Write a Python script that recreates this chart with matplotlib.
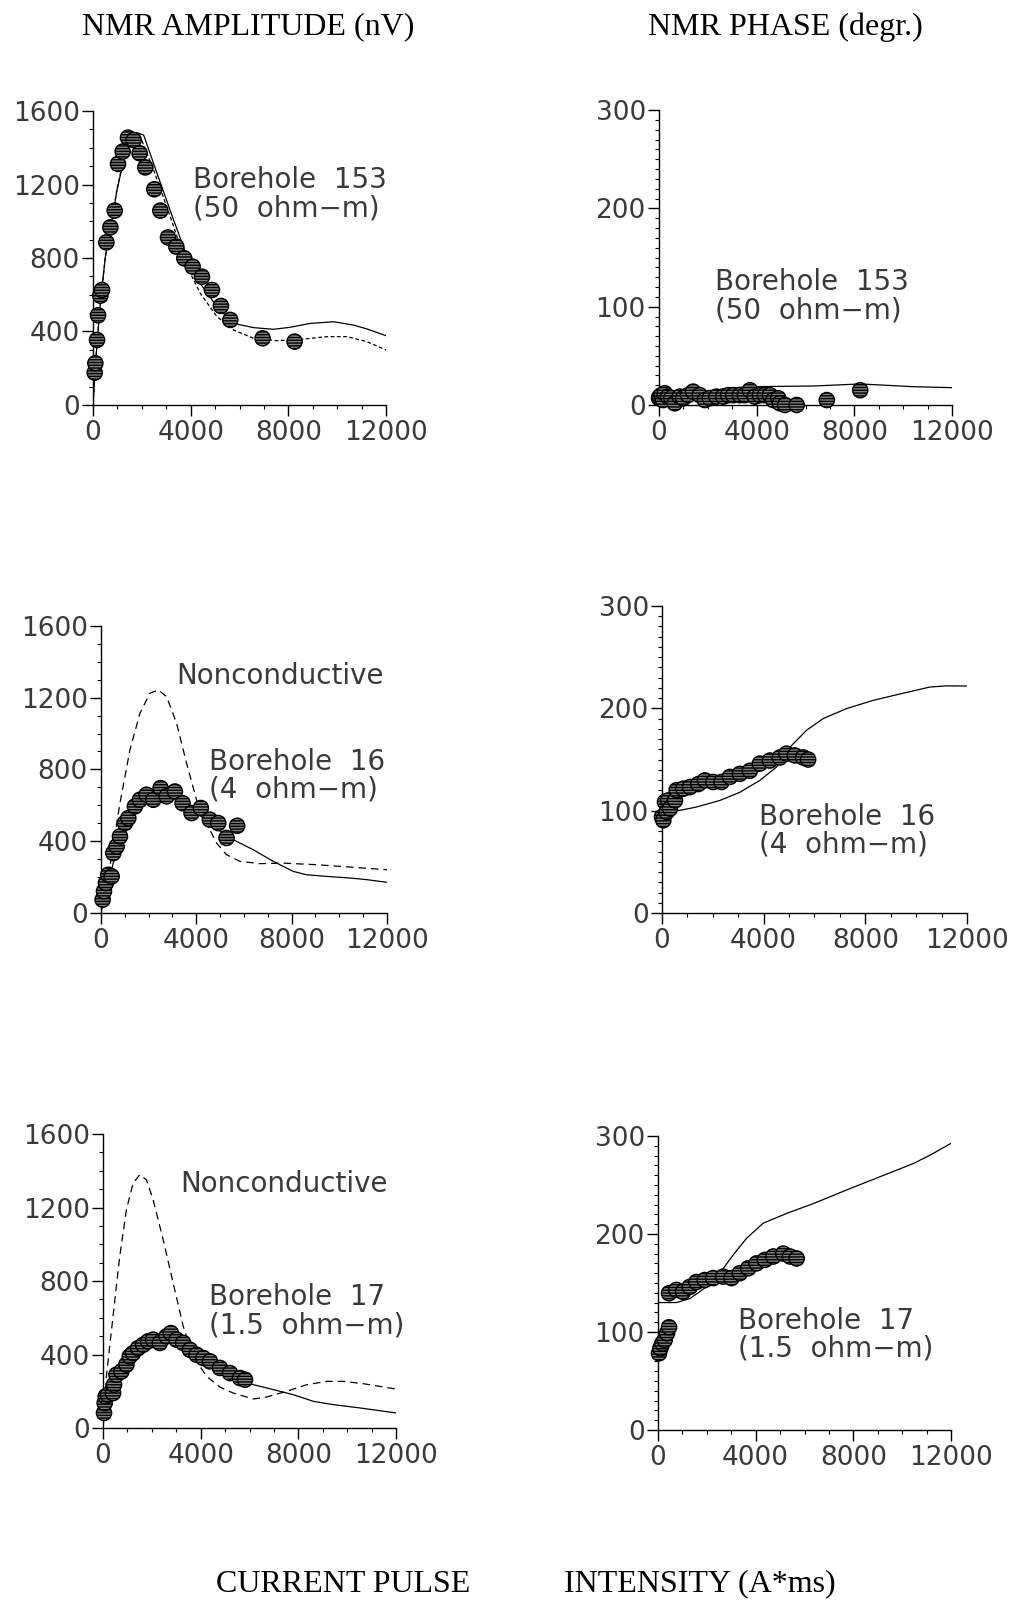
import matplotlib
matplotlib.use("Agg")
import matplotlib.pyplot as plt
from matplotlib.ticker import MultipleLocator

# ---- Borehole 153, amplitude (nV) ----
amp153_x = [68, 95, 164, 205, 300, 368, 546, 709, 887, 1023, 1214, 1432, 1664, 1910, 2142,
            2510, 2756, 3070, 3411, 3738, 4079, 4461, 4870, 5239, 5621, 6944, 8254]
amp153_y = [176, 227, 354, 488, 595, 626, 885, 967, 1058, 1312, 1379, 1455, 1442, 1370, 1293,
            1174, 1058, 912, 862, 798, 753, 698, 626, 539, 463, 363, 345]
amp153_fit_x = [0, 68, 164, 300, 505, 709, 982, 1255, 1528, 1800, 2074, 2620, 3300, 3850, 4390,
                5075, 5757, 6576, 7394, 8076, 8895, 9850, 10670, 11214, 12000]
amp153_fit_y = [0, 154, 336, 553, 807, 952, 1170, 1333, 1442, 1482, 1469, 1261, 1007, 807, 662,
                535, 444, 421, 412, 423, 444, 453, 435, 414, 377]
amp153_nc_x = [0, 68, 164, 300, 505, 709, 982, 1255, 1500, 1690, 1950, 2480, 3165, 3850, 4390,
               5075, 5757, 6576, 7530, 8486, 9577, 10395, 11214, 12000]
amp153_nc_y = [0, 154, 336, 553, 807, 952, 1175, 1340, 1450, 1478, 1455, 1279, 1025, 753, 608,
               481, 408, 363, 350, 357, 372, 372, 345, 299]

# ---- Borehole 153, phase (degr.) ----
ph153_x = [0, 27, 96, 164, 233, 370, 506, 643, 848, 985, 1190, 1396, 1669, 1875, 2080, 2353,
           2627, 2832, 3038, 3311, 3517, 3722, 3927, 4133, 4338, 4543, 4680, 4885, 4953, 5159,
           5638, 6870, 8238]
ph153_y = [7, 8.5, 10, 5, 12, 8.5, 7, 1.7, 8.5, 6.8, 10, 13.6, 10, 5, 7, 8.5,
           8.5, 10, 10, 10, 10, 15, 8.5, 10, 10, 10, 5, 6.8, 1.7, 0,
           0, 5, 15]
ph153_fit_x = [0, 848, 2217, 3585, 6322, 8238, 10427, 12000]
ph153_fit_y = [8.5, 10, 15, 18.6, 19.3, 21.4, 18.6, 17.6]

# ---- Borehole 16, amplitude ----
amp16_x = [70, 126, 210, 307, 447, 517, 657, 796, 1006, 1146, 1425, 1635, 1914, 2193, 2501,
           2752, 3101, 3422, 3800, 4191, 4568, 4918, 5267, 5714]
amp16_y = [74, 121, 167, 213, 204, 334, 371, 427, 501, 529, 594, 631, 659, 631, 696,
           650, 677, 612, 557, 585, 520, 501, 418, 486]
amp16_fit_x = [0, 98, 377, 657, 1076, 1635, 2333, 3031, 3870, 4708, 5546, 6384, 7223, 8061,
               8620, 9458, 10436, 11134, 12000]
amp16_fit_y = [0, 93, 204, 353, 520, 631, 668, 650, 575, 483, 408, 353, 288, 232,
               213, 204, 195, 186, 171]
amp16_nc_x = [0, 377, 796, 1215, 1635, 2054, 2403, 2752, 3171, 3590, 4009, 4428, 4848, 5267,
              5826, 6664, 7642, 9039, 10436, 12000]
amp16_nc_y = [0, 260, 612, 909, 1113, 1225, 1243, 1206, 1058, 835, 631, 501, 390, 325,
              288, 275, 278, 269, 256, 241]

# ---- Borehole 16, phase ----
ph16_x = [0, 52, 118, 183, 249, 314, 511, 576, 838, 1100, 1428, 1690, 2018, 2345, 2673, 3066,
          3459, 3852, 4245, 4638, 4900, 5227, 5555, 5751]
ph16_y = [93.8, 90.6, 108.5, 98.7, 110, 102, 110, 120, 121.5, 123, 126, 129.6, 128, 128, 133, 136,
          139, 146, 149, 152, 155.7, 154, 152, 150]
ph16_fit_x = [0, 708, 1362, 2280, 3066, 3852, 4507, 5031, 5686, 6341, 7258, 8306, 9354, 10533,
              11188, 12000]
ph16_fit_y = [100.3, 100.3, 103.6, 110, 118, 129.6, 142.7, 162, 178.5, 190, 199.7, 207.8, 214,
              220.8, 222, 221.8]

# ---- Borehole 17, amplitude ----
amp17_x = [41, 68, 109, 205, 410, 452, 547, 753, 958, 1095, 1231, 1437, 1642, 1847, 2052, 2326,
           2600, 2778, 3010, 3284, 3558, 3831, 4105, 4379, 4789, 5199, 5610, 5815]
amp17_y = [82, 136, 172, 181, 190, 236, 290, 308, 345, 390, 408, 435, 453, 472, 481, 463,
           499, 517, 481, 463, 426, 399, 381, 363, 327, 299, 272, 263]
amp17_fit_x = [0, 68, 274, 684, 1231, 1916, 2600, 3284, 3968, 4652, 5336, 6158, 6979, 7800,
               8621, 9442, 10537, 12000]
amp17_fit_y = [0, 100, 227, 317, 390, 463, 490, 444, 372, 308, 263, 236, 209, 181,
               145, 127, 109, 82]
amp17_nc_x = [0, 137, 410, 684, 958, 1231, 1505, 1779, 2052, 2463, 2873, 3284, 3695, 4242,
              4789, 5336, 6158, 6705, 7526, 8347, 9168, 9853, 10674, 12000]
amp17_nc_y = [0, 281, 608, 934, 1188, 1333, 1379, 1351, 1243, 1025, 789, 553, 390, 281,
              223, 190, 158, 169, 200, 236, 254, 254, 241, 212]

# ---- Borehole 17, phase ----
ph17_x = [41, 96, 178, 274, 369, 452, 452, 753, 1026, 1300, 1574, 1916, 2258, 2668, 3010, 3352,
          3695, 4037, 4379, 4721, 5131, 5405, 5679]
ph17_y = [78.2, 83.3, 88.4, 91.8, 98.6, 104.8, 139.5, 142.9, 141, 146, 151, 153, 155, 156.5, 155,
          160, 165, 170, 173.5, 177, 180, 177, 175]
ph17_fit_x = [0, 753, 1300, 1984, 2531, 3079, 3626, 4310, 5268, 6363, 7731, 9100, 10468, 11152,
              12000]
ph17_fit_y = [130, 130, 134, 146, 160, 178.6, 195.6, 211, 221, 231, 245, 258.5, 272, 280.6,
              292.5]

LABEL_FONT = {'family': 'DejaVu Sans', 'size': 20, 'color': '#3a3a3a'}
TITLE_FONT = {'family': 'Liberation Serif', 'size': 23, 'color': 'black'}


def style_axes(ax, ymax, ymajor, yminor):
    ax.set_xlim(0, 12000)
    ax.set_ylim(0, ymax)
    for side in ['top', 'right']:
        ax.spines[side].set_visible(False)
    for side in ['left', 'bottom']:
        ax.spines[side].set_linewidth(1.0)
    ax.xaxis.set_major_locator(MultipleLocator(4000))
    ax.xaxis.set_minor_locator(MultipleLocator(1000))
    ax.yaxis.set_major_locator(MultipleLocator(ymajor))
    ax.yaxis.set_minor_locator(MultipleLocator(yminor))
    ax.tick_params(axis='both', which='major', direction='out', length=8, width=1,
                   labelsize=19, labelcolor='#3a3a3a')
    ax.tick_params(axis='both', which='minor', direction='out', length=3, width=0.8)
    ax.tick_params(axis='y', which='major', pad=1.5)
    ax.tick_params(axis='x', which='major', pad=3)


def data_points(ax, x, y):
    ax.scatter(x, y, s=120, facecolor='#808080', edgecolor='black', linewidth=1.0,
               hatch='------', zorder=3, clip_on=False)


fig = plt.figure(figsize=(10.2, 16.02), dpi=100)

# axes rectangles in figure fractions
ax1 = fig.add_axes([0.0912, 0.7472, 0.2873, 0.1835])
ax2 = fig.add_axes([0.6461, 0.7472, 0.2873, 0.1841])
ax3 = fig.add_axes([0.0990, 0.4301, 0.2804, 0.1792])
ax4 = fig.add_axes([0.6490, 0.4301, 0.2990, 0.1916])
ax5 = fig.add_axes([0.1010, 0.1086, 0.2873, 0.1835])
ax6 = fig.add_axes([0.6451, 0.1074, 0.2873, 0.1835])

# Borehole 153
ax1.plot(amp153_fit_x, amp153_fit_y, color='black', linewidth=0.9)
ax1.plot(amp153_nc_x, amp153_nc_y, color='black', linewidth=0.9, linestyle=(0, (3, 2)))
data_points(ax1, amp153_x, amp153_y)
style_axes(ax1, 1600, 400, 100)
ax1.text(4096, 1300, 'Borehole  153\n(50  ohm\u2212m)', va='top', ha='left',
         linespacing=1.0, fontdict=LABEL_FONT)

ax2.plot(ph153_fit_x, ph153_fit_y, color='black', linewidth=0.9)
data_points(ax2, ph153_x, ph153_y)
style_axes(ax2, 300, 100, 10)
ax2.text(2293, 139, 'Borehole  153\n(50  ohm\u2212m)', va='top', ha='left',
         linespacing=1.0, fontdict=LABEL_FONT)

# Borehole 16
ax3.plot(amp16_fit_x, amp16_fit_y, color='black', linewidth=0.9)
ax3.plot(amp16_nc_x, amp16_nc_y, color='black', linewidth=0.9, linestyle=(0, (6, 4)))
data_points(ax3, amp16_x, amp16_y)
style_axes(ax3, 1600, 400, 100)
ax3.text(3147, 1399, 'Nonconductive', va='top', ha='left', fontdict=LABEL_FONT)
ax3.text(4531, 920, 'Borehole  16\n(4  ohm\u2212m)', va='top', ha='left',
         linespacing=1.0, fontdict=LABEL_FONT)

ax4.plot(ph16_fit_x, ph16_fit_y, color='black', linewidth=0.9)
data_points(ax4, ph16_x, ph16_y)
style_axes(ax4, 300, 100, 10)
ax4.text(3816, 107.5, 'Borehole  16\n(4  ohm\u2212m)', va='top', ha='left',
         linespacing=1.0, fontdict=LABEL_FONT)

# Borehole 17
ax5.plot(amp17_fit_x, amp17_fit_y, color='black', linewidth=0.9)
ax5.plot(amp17_nc_x, amp17_nc_y, color='black', linewidth=0.9, linestyle=(0, (6, 4)))
data_points(ax5, amp17_x, amp17_y)
style_axes(ax5, 1600, 400, 100)
ax5.text(3154, 1404, 'Nonconductive', va='top', ha='left', fontdict=LABEL_FONT)
ax5.text(4341, 789, 'Borehole  17\n(1.5  ohm\u2212m)', va='top', ha='left',
         linespacing=1.0, fontdict=LABEL_FONT)

ax6.plot(ph17_fit_x, ph17_fit_y, color='black', linewidth=0.9)
data_points(ax6, ph17_x, ph17_y)
style_axes(ax6, 300, 100, 10)
ax6.text(3276, 125.5, 'Borehole  17\n(1.5  ohm\u2212m)', va='top', ha='left',
         linespacing=1.0, fontdict=LABEL_FONT)

# column titles and common x label
fig.text(248 / 1020, 1 - 27 / 1602, 'NMR AMPLITUDE (nV)', ha='center', va='center',
         fontdict=TITLE_FONT)
fig.text(785 / 1020, 1 - 27 / 1602, 'NMR PHASE (degr.)', ha='center', va='center',
         fontdict=TITLE_FONT)
fig.text(343 / 1020, 1 - 1584 / 1602, 'CURRENT PULSE', ha='center', va='center',
         fontdict=TITLE_FONT)
fig.text(700 / 1020, 1 - 1584 / 1602, 'INTENSITY (A*ms)', ha='center', va='center',
         fontdict=TITLE_FONT)

fig.savefig('out.png', dpi=100, facecolor='white')
